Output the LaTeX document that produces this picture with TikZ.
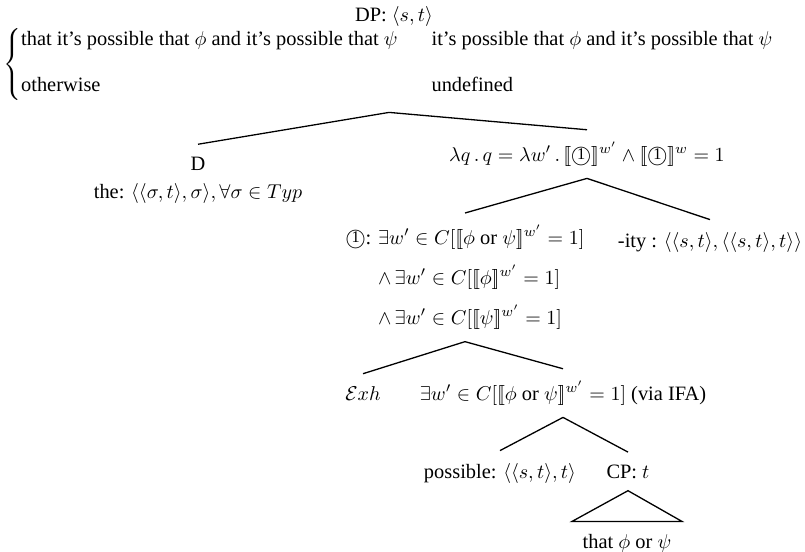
\documentclass[tikz,border=0pt]{standalone}
\usepackage{amsmath}
\usepackage{fontspec}
\setmainfont{Liberation Serif}[Scale=1.02]
\usetikzlibrary{calc}
\newcommand{\circone}{\mbox{\ooalign{\hfil\raisebox{0.08em}{\footnotesize 1}\hfil\crcr$\bigcirc$}}}
\newcommand{\lsem}{[\![}
\newcommand{\rsem}{]\!]}

\begin{document}
\begin{tikzpicture}[x=0.5pt, y=-0.5pt,
    lbl/.style={inner xsep=0pt, inner ysep=6pt, anchor=base},
    branch/.style={black, line width=0.65pt}]
  \useasboundingbox (0,0) rectangle (805,552);

  % Root: DP with its two-case denotation
  \node[lbl] (dp) at (394,21) {DP: $\langle s,t\rangle$};
  \node[lbl, anchor=west] (cases) at (3,64) {$\left\{\begin{array}{@{}l@{\hspace{17pt}}l@{}}
      \text{that it’s possible that $\phi$ and it’s possible that $\psi$} & \text{it’s possible that $\phi$ and it’s possible that $\psi$}\\[11pt]
      \text{otherwise} & \text{undefined}
    \end{array}\right.$};

  % Left daughter: the determiner
  \node[lbl] (d) at (198,170) {D};
  \node[lbl] (dthe) at (198,198) {the: $\langle\langle\sigma,t\rangle,\sigma\rangle, \forall\sigma\in Typ$};

  % Right daughter and its two parts
  \node[lbl] (lam) at (587,161) {$\lambda q\,.\,q = \lambda w'\,.\,\lsem\circone\rsem^{w'} \wedge \lsem\circone\rsem^{w} = 1$};
  \node[lbl, anchor=north, align=left, font=\fontsize{10}{20}\selectfont] (one) at (465,213)
    {\circone: $\exists w'\in C[\lsem\phi \text{ or } \psi\rsem^{w'} = 1]$\\
     \phantom{\circone: }$\wedge\,\exists w' \in C[\lsem\phi\rsem^{w'} = 1]$\\
     \phantom{\circone: }$\wedge\,\exists w' \in C[\lsem\psi\rsem^{w'} = 1]$};
  \node[lbl] (ity) at (710,247) {-ity : $\langle\langle s,t\rangle,\langle\langle s,t\rangle,t\rangle\rangle$};

  % Exhaustification layer
  \node[lbl] (exh) at (363,400) {$\mathcal{E}xh$};
  \node[lbl] (ifa) at (563,400) {$\exists w' \in C[\lsem\phi\text{ or }\psi\rsem^{w'} = 1]$ (via IFA)};

  % Bottom: modal and its clause
  \node[lbl] (poss) at (500,478) {possible: $\langle\langle s,t\rangle,t\rangle$};
  \node[lbl] (cp) at (628,478) {CP: $t$};
  \node[lbl] (that) at (627,548) {that $\phi$ or $\psi$};

  % Branches
  \draw[branch] (cases.south) -- (d.north);
  \draw[branch] (cases.south) -- (lam.north);
  \draw[branch] (lam.south) -- (one.north);
  \draw[branch] (lam.south) -- (ity.north);
  \draw[branch] (one.south) -- (exh.north);
  \draw[branch] (one.south) -- (ifa.north);
  \draw[branch] (ifa.south) -- (poss.north);
  \draw[branch] (ifa.south) -- (cp.north);

  % Triangle over the unanalysed CP
  \draw[branch] (cp.south) -- ($(that.north)+(-55,0)$) -- ($(that.north)+(55,0)$) -- cycle;
\end{tikzpicture}
\end{document}
